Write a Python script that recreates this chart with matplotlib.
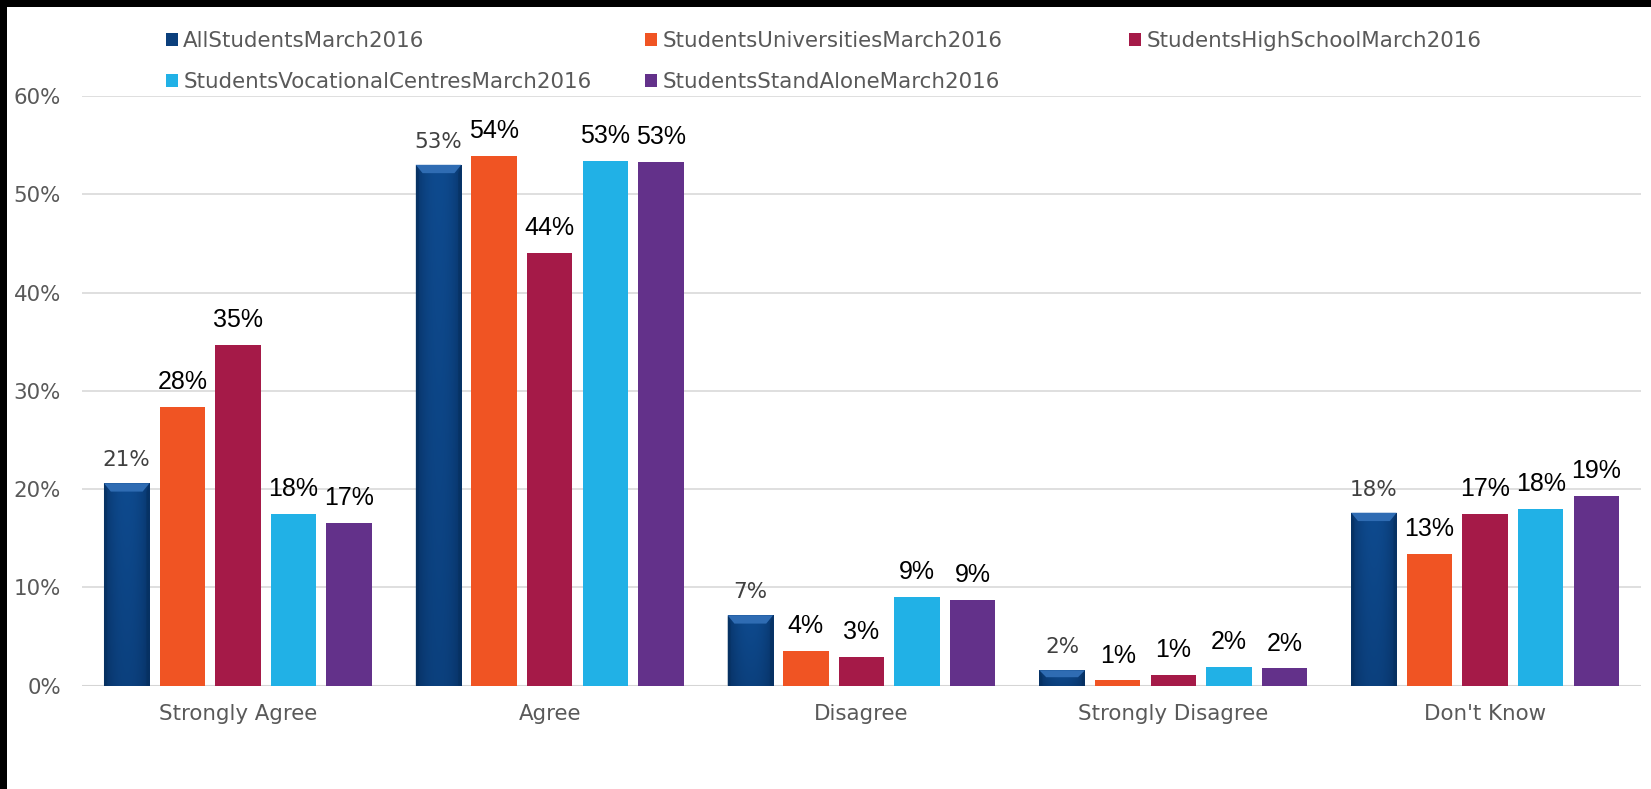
import numpy as np
import matplotlib
matplotlib.use("Agg")
import matplotlib.pyplot as plt
from matplotlib.patches import Rectangle, Polygon
from matplotlib.ticker import MultipleLocator, FuncFormatter

categories = ["Strongly Agree", "Agree", "Disagree", "Strongly Disagree", "Don't Know"]
series_names = ["AllStudentsMarch2016", "StudentsUniversitiesMarch2016",
                "StudentsHighSchoolMarch2016", "StudentsVocationalCentresMarch2016",
                "StudentsStandAloneMarch2016"]
all_students = [0.206, 0.530, 0.0717, 0.0157, 0.176]
universities = [0.284, 0.539, 0.0358, 0.0055, 0.134]
high_school = [0.347, 0.440, 0.0290, 0.0109, 0.1747]
vocational = [0.175, 0.534, 0.0904, 0.0188, 0.180]
stand_alone = [0.166, 0.533, 0.0874, 0.0177, 0.193]
series_values = [all_students, universities, high_school, vocational, stand_alone]
colors = ["#0B3F7C", "#F05423", "#A51A48", "#21B1E6", "#63318A"]

W, H = 1651, 789
fig = plt.figure(figsize=(W / 100, H / 100), dpi=100)
fig.patch.set_facecolor("white")
ax = fig.add_axes([82 / W, 1 - 685.7 / H, (1641 - 82) / W, (685.7 - 96.0) / H])

x = np.arange(len(categories))
pitch = 0.1783
bw = 0.146
containers = []
for i, vals in enumerate(series_values):
    off = (i - 2) * pitch
    bc = ax.bar(x + off, vals, width=bw, color=colors[i], zorder=3, linewidth=0)
    containers.append(bc)

# gradient / bevel look for first series
prof_h = np.linspace(-1, 1, 60)
shade_h = 1 - 0.55 * np.abs(prof_h) ** 2.2
base_c = np.array([0x0E, 0x4A, 0x8E]) / 255
dark_c = np.array([0x04, 0x24, 0x4E]) / 255
for rect in containers[0].patches:
    x0 = rect.get_x()
    w = rect.get_width()
    h = rect.get_height()
    prof_v = np.linspace(0, 1, 40)[:, None]  # 0 bottom .. 1 top
    mix = shade_h[None, :] * (0.75 + 0.25 * prof_v)
    img = dark_c[None, None, :] + (base_c - dark_c)[None, None, :] * mix[:, :, None]
    im = ax.imshow(img, extent=[x0, x0 + w, 0, h], origin="lower",
                   aspect="auto", zorder=3.5, interpolation="bilinear")
    im.set_clip_path(rect)
    dy = min(0.0085, h * 0.45)
    dx = 0.022
    bevel = Polygon([[x0, h], [x0 + w, h], [x0 + w - dx, h - dy], [x0 + dx, h - dy]],
                    closed=True, facecolor="#2F6CB3", edgecolor="none", zorder=3.6)
    ax.add_patch(bevel)
    edge_l = Polygon([[x0, h], [x0 + dx * 0.45, h - dy], [x0 + dx * 0.45, 0], [x0, 0]],
                     closed=True, facecolor="#06305F", edgecolor="none", zorder=3.6, alpha=0.6)
    edge_r = Polygon([[x0 + w, h], [x0 + w - dx * 0.45, h - dy], [x0 + w - dx * 0.45, 0], [x0 + w, 0]],
                     closed=True, facecolor="#06305F", edgecolor="none", zorder=3.6, alpha=0.6)
    ax.add_patch(edge_l)
    ax.add_patch(edge_r)

# data labels
for i, bc in enumerate(containers):
    for rect, v in zip(bc.patches, series_values[i]):
        lbl = f"{int(np.floor(v * 100 + 0.5))}%"
        if i == 0:
            ax.annotate(lbl, (rect.get_x() + rect.get_width() / 2, v),
                        xytext=(0, 12.3), textcoords="offset points",
                        ha="center", va="baseline", fontsize=15.5,
                        color="#404040", family="DejaVu Sans", zorder=5)
        else:
            ax.annotate(lbl, (rect.get_x() + rect.get_width() / 2, v),
                        xytext=(0, 12.8), textcoords="offset points",
                        ha="center", va="baseline", fontsize=18,
                        color="black", family="Liberation Sans", zorder=5)

ax.set_xlim(-0.5, len(categories) - 0.5)
ax.set_ylim(0, 0.6)
ax.yaxis.set_major_locator(MultipleLocator(0.1))
ax.yaxis.set_major_formatter(FuncFormatter(lambda v, p: f"{int(round(v * 100))}%"))
ax.set_xticks(x)
ax.set_xticklabels(categories)
ax.tick_params(axis="x", length=0, pad=13.3, labelsize=15.4, labelcolor="#595959")
ax.tick_params(axis="y", length=0, pad=15.3, labelsize=15.4, labelcolor="#595959")
for s in ax.spines.values():
    s.set_visible(False)
ax.grid(axis="y", color="#D9D9D9", linewidth=1.2, zorder=0)
ax.set_axisbelow(True)
ax.axhline(0, color="#D5D5D5", linewidth=2.2, zorder=2)

# legend entries laid out as in the original (3 columns x 2 rows)
legend_pos = [(166, 40.7), (645, 40.7), (1129, 40.7), (166, 81.7), (645, 81.7)]
for i, (lx, ly) in enumerate(legend_pos):
    fig.legend([containers[i]], [series_names[i]], loc="center left",
               bbox_to_anchor=(lx / W, 1 - ly / H), frameon=False,
               fontsize=15.4, labelcolor="#595959", borderpad=0, borderaxespad=0,
               handlelength=0.56, handleheight=0.56, handletextpad=0.25)

# dark border strips (top and left)
fig.patches.append(Rectangle((0, 1 - 7 / H), 1, 7 / H, transform=fig.transFigure,
                             facecolor="black", edgecolor="none", zorder=10))
fig.patches.append(Rectangle((0, 0), 7 / W, 1, transform=fig.transFigure,
                             facecolor="black", edgecolor="none", zorder=10))

fig.savefig("out.png", dpi=100)
